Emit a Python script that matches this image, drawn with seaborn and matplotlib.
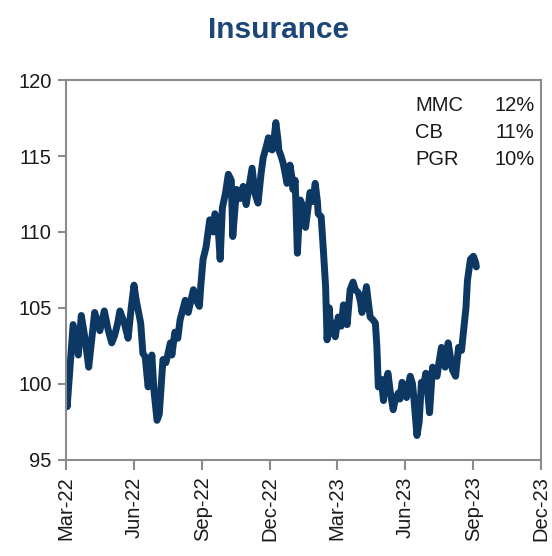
import matplotlib
matplotlib.use('Agg')
import pandas as pd
import matplotlib.pyplot as plt
import matplotlib.dates as mdates
import seaborn as sns

# Insurance basket index
dates = [
    '2022-03-02', '2022-03-03', '2022-03-11', '2022-03-18', '2022-03-22', '2022-03-27',
    '2022-04-01', '2022-04-09', '2022-04-16', '2022-04-22', '2022-04-27', '2022-05-02',
    '2022-05-06', '2022-05-10', '2022-05-13', '2022-05-19', '2022-05-24', '2022-05-28',
    '2022-06-01', '2022-06-04', '2022-06-06', '2022-06-10', '2022-06-13', '2022-06-16',
    '2022-06-20', '2022-06-22', '2022-06-25', '2022-06-28', '2022-07-02', '2022-07-05',
    '2022-07-10', '2022-07-14', '2022-07-20', '2022-07-22', '2022-07-26', '2022-07-30',
    '2022-08-02', '2022-08-09', '2022-08-13', '2022-08-20', '2022-08-24', '2022-08-28',
    '2022-08-30', '2022-09-02', '2022-09-06', '2022-09-11', '2022-09-16', '2022-09-18',
    '2022-09-22', '2022-09-25', '2022-09-28', '2022-10-02', '2022-10-06', '2022-10-10',
    '2022-10-12', '2022-10-17', '2022-10-22', '2022-10-26', '2022-10-30', '2022-11-03',
    '2022-11-07', '2022-11-11', '2022-11-15', '2022-11-19', '2022-11-22', '2022-11-26',
    '2022-11-29', '2022-12-01', '2022-12-04', '2022-12-07', '2022-12-09', '2022-12-12',
    '2022-12-13', '2022-12-16', '2022-12-19', '2022-12-21', '2022-12-24', '2022-12-27',
    '2022-12-28', '2022-12-31', '2023-01-01', '2023-01-04', '2023-01-07', '2023-01-09',
    '2023-01-11', '2023-01-15', '2023-01-18', '2023-01-22', '2023-01-24', '2023-01-28',
    '2023-01-31', '2023-02-03', '2023-02-04', '2023-02-08', '2023-02-11', '2023-02-14',
    '2023-02-16', '2023-02-19', '2023-02-21', '2023-02-24', '2023-02-27', '2023-03-03',
    '2023-03-07', '2023-03-10', '2023-03-12', '2023-03-15', '2023-03-19', '2023-03-23',
    '2023-03-26', '2023-03-30', '2023-04-02', '2023-04-04', '2023-04-07', '2023-04-10',
    '2023-04-12', '2023-04-15', '2023-04-19', '2023-04-22', '2023-04-24', '2023-04-26',
    '2023-04-30', '2023-05-03', '2023-05-05', '2023-05-09', '2023-05-12', '2023-05-16',
    '2023-05-19', '2023-05-23', '2023-05-25', '2023-05-28', '2023-05-31', '2023-06-03',
    '2023-06-05', '2023-06-08', '2023-06-11', '2023-06-13', '2023-06-17', '2023-06-20',
    '2023-06-23', '2023-06-25', '2023-06-29', '2023-07-04', '2023-07-08', '2023-07-12',
    '2023-07-14', '2023-07-17', '2023-07-20', '2023-07-22', '2023-07-25', '2023-07-29',
    '2023-08-01', '2023-08-04', '2023-08-08', '2023-08-12', '2023-08-16', '2023-08-19',
    '2023-08-22', '2023-08-24', '2023-08-28', '2023-09-01', '2023-09-04', '2023-09-05',
]
values = [
    100.7, 98.5, 103.9, 101.9, 104.5, 103.0,
    101.1, 104.7, 103.5, 104.8, 103.6, 102.7,
    103.2, 104.0, 104.8, 104.0, 103.0, 104.9,
    106.5, 105.5, 105.0, 104.0, 102.0, 101.8,
    99.8, 100.5, 101.9, 99.5, 97.6, 98.0,
    101.6, 101.4, 102.7, 101.9, 103.4, 103.0,
    104.2, 105.5, 104.7, 106.2, 105.5, 105.1,
    106.5, 108.2, 109.0, 110.8, 110.0, 111.2,
    110.5, 108.2, 111.6, 112.5, 113.8, 113.4,
    109.7, 112.8, 112.2, 113.0, 111.8, 113.0,
    114.2, 112.5, 111.9, 113.8, 114.9, 115.6,
    116.2, 115.5, 115.4, 116.3, 117.2, 116.0,
    115.4, 115.0, 114.5, 114.0, 113.2, 113.8,
    114.4, 113.5, 112.8, 113.4, 108.6, 110.5,
    112.1, 111.6, 110.3, 111.8, 112.6, 112.0,
    113.2, 112.0, 111.2, 111.0, 108.8, 106.4,
    102.9, 105.0, 103.3, 104.0, 103.1, 104.4,
    103.8, 105.2, 104.5, 103.9, 106.2, 106.7,
    106.2, 106.0, 105.4, 104.7, 105.5, 106.4,
    105.6, 104.4, 104.2, 104.0, 102.5, 99.8,
    100.3, 98.9, 100.0, 100.7, 99.5, 98.3,
    99.0, 99.4, 99.0, 100.1, 99.6, 99.1,
    99.8, 100.5, 100.0, 99.0, 96.6, 97.5,
    100.1, 99.6, 100.7, 98.1, 101.1, 100.8,
    100.5, 101.5, 102.4, 101.5, 101.1, 102.7,
    101.8, 100.9, 100.5, 102.4, 102.2, 103.6,
    105.0, 106.8, 108.2, 108.4, 108.0, 107.7,
]

tickers = ['MMC', 'CB', 'PGR']
weights = ['12%', '11%', '10%']

df = pd.DataFrame({'date': pd.to_datetime(dates), 'value': values})

sns.set_style('white')
plt.rcParams['font.family'] = ['Liberation Sans', 'DejaVu Sans']

fig, ax = plt.subplots(figsize=(5.52, 5.56), dpi=100)
fig.subplots_adjust(left=0.119, right=0.980, bottom=0.173, top=0.856)

sns.lineplot(data=df, x='date', y='value', ax=ax, color='#0D3863', linewidth=5.0)

ax.set_xlim(pd.Timestamp('2022-03-01'), pd.Timestamp('2023-12-01'))
ax.set_ylim(95, 120)
ax.set_yticks([95, 100, 105, 110, 115, 120])
ax.xaxis.set_major_locator(mdates.MonthLocator(bymonth=[3, 6, 9, 12]))
ax.xaxis.set_major_formatter(mdates.DateFormatter('%b-%y'))
ax.set_xlabel('')
ax.set_ylabel('')

for s in ax.spines.values():
    s.set_color('#8c8c8c')
    s.set_linewidth(1.5)

ax.tick_params(axis='both', which='major', direction='out', color='#8c8c8c',
               width=1.5, labelsize=14.5, labelcolor='#1a1a1a')
ax.tick_params(axis='y', length=6, pad=4, left=True)
ax.tick_params(axis='x', length=7, pad=5, bottom=True)
plt.setp(ax.get_xticklabels(), rotation=90, ha='center', va='top')

# weights box in the top right corner
row_y = [0.932, 0.861, 0.790]
for t, w, yy in zip(tickers, weights, row_y):
    ax.text(0.735, yy, t, transform=ax.transAxes, fontsize=14.5,
            color='#1a1a1a', ha='left', va='center')
    ax.text(0.986, yy, w, transform=ax.transAxes, fontsize=14.5,
            color='#1a1a1a', ha='right', va='center')

fig.text(0.504, 0.946, 'Insurance', ha='center', va='center', fontsize=21.5,
         fontweight='bold', color='#1B4677',
         family=['Liberation Sans Narrow', 'Liberation Sans', 'DejaVu Sans'])

fig.savefig('out.png', dpi=100)
